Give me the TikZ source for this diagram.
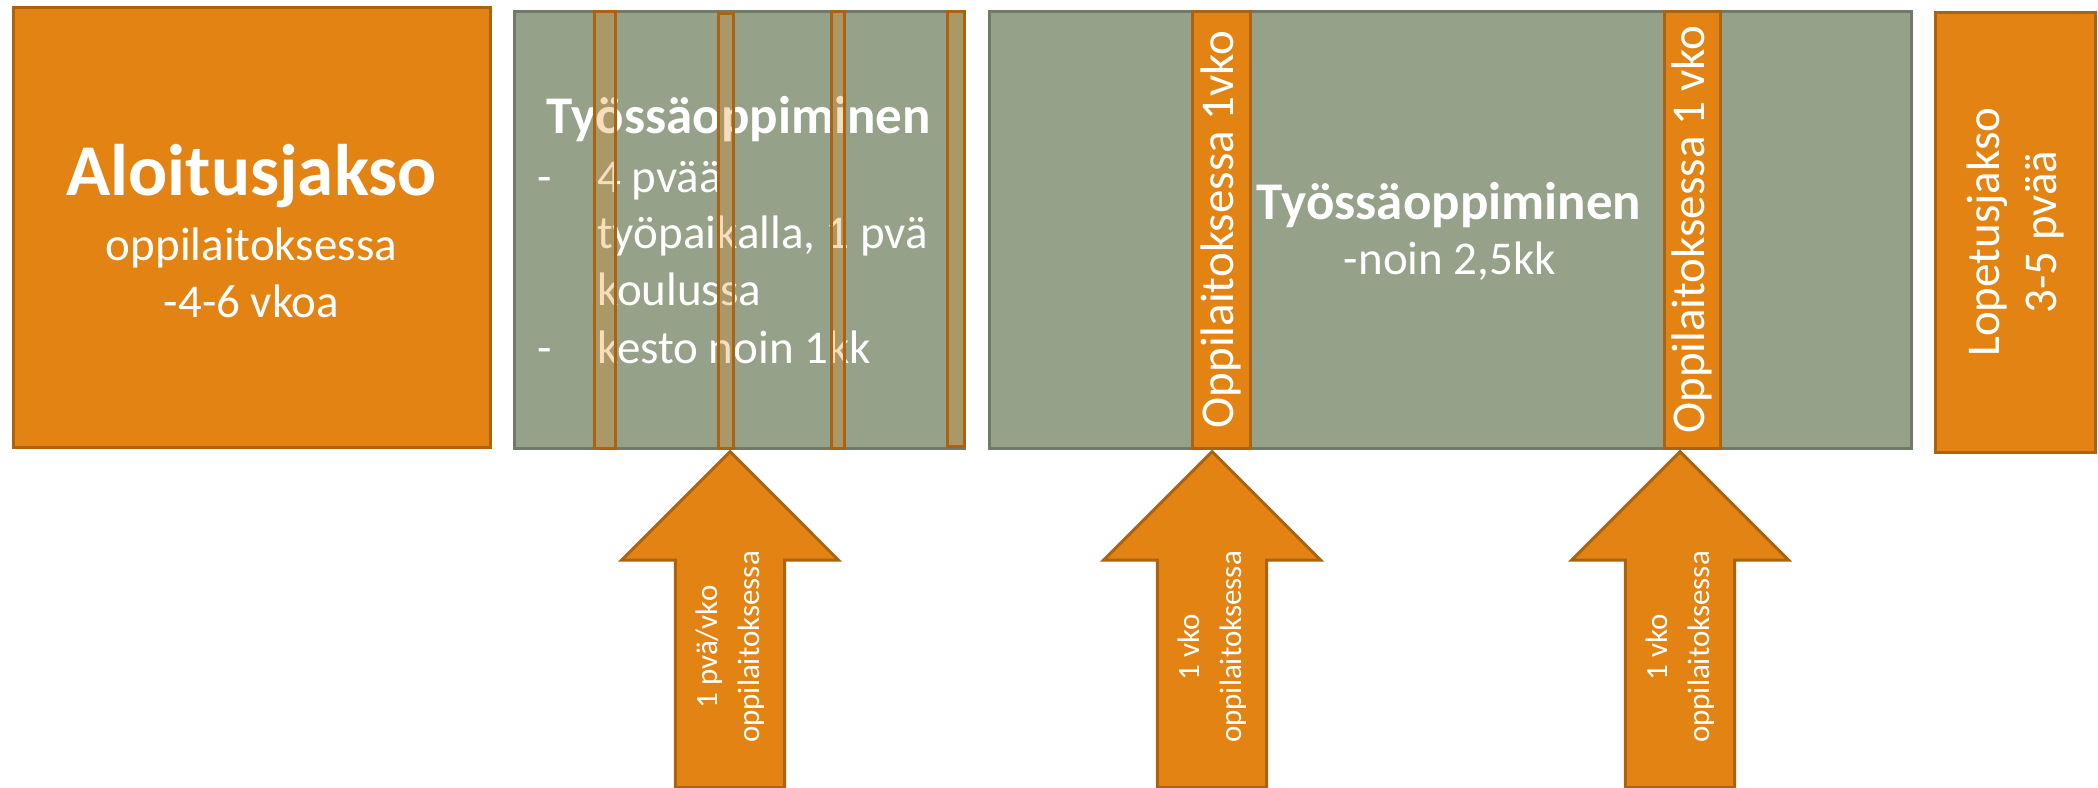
\documentclass[tikz,border=0pt]{standalone}
\usepackage{fontspec}
\setmainfont{Carlito}
\usetikzlibrary{shapes.arrows, calc}

\definecolor{jaksoOrange}{RGB}{227,131,19}
\definecolor{jaksoBorder}{RGB}{172,99,16}
\definecolor{tyoGreen}{RGB}{149,161,137}
\definecolor{tyoBorder}{RGB}{112,122,103}

\newcommand{\isoteksti}{\fontsize{73}{80}\selectfont\bfseries}
\newcommand{\otsikko}{\fontsize{53}{60}\selectfont\bfseries}
\newcommand{\perusteksti}{\fontsize{47}{57}\selectfont}
\newcommand{\pieniteksti}{\fontsize{31}{42}\selectfont}

\begin{document}
\begin{tikzpicture}[x=1pt, y=-1pt,
	jakso/.style={draw=jaksoBorder, fill=jaksoOrange, line width=3pt, inner sep=0pt, text=white},
	tyo/.style={draw=tyoBorder, fill=tyoGreen, line width=3pt, inner sep=0pt},
	raita/.style={draw=jaksoBorder, fill=jaksoOrange, fill opacity=0.28, line width=3pt, inner sep=0pt},
	teksti/.style={text=white, inner sep=0pt, anchor=base},
	nuoli/.style={single arrow, rotate=90, draw=jaksoBorder, fill=jaksoOrange, line width=3pt,
		text=white, minimum height=336, minimum width=217, single arrow head extend=50,
		single arrow tip angle=90, anchor=tip, align=center, font=\pieniteksti,
		inner xsep=0pt, inner ysep=15pt}]
	\useasboundingbox (0,0) rectangle (2098,787);
	
	\node[jakso, minimum width=477, minimum height=440] (aloitus) at (251.5,227) {};
	\node[tyo, minimum width=450, minimum height=437] (tyo1) at (739,229.5) {};
	\node[tyo, minimum width=922, minimum height=437] (tyo2) at (1450,229.5) {};
	\node[jakso, minimum width=160, minimum height=440] (lopetus) at (2015,232) {};
	
	\node[teksti, font=\isoteksti] (aloitusotsikko) at (251.5,195) {Aloitusjakso};
	\node[teksti, font=\perusteksti] (aloituspaikka) at (251.5,260) {oppilaitoksessa};
	\node[teksti, font=\perusteksti] (aloituskesto) at (251.5,317) {-4-6 vkoa};
	
	\node[teksti, font=\otsikko] (tyo1otsikko) at (738.5,133) {Työssäoppiminen};
	\node[teksti, anchor=base west, font=\perusteksti] (viiva1) at (537,192) {-};
	\node[teksti, anchor=base west, font=\perusteksti] (rivi1) at (597,192) {4 pvää};
	\node[teksti, anchor=base west, font=\perusteksti] (rivi2) at (597,248) {työpaikalla, 1 pvä};
	\node[teksti, anchor=base west, font=\perusteksti] (rivi3) at (597,305) {koulussa};
	\node[teksti, anchor=base west, font=\perusteksti] (viiva2) at (537,363) {-};
	\node[teksti, anchor=base west, font=\perusteksti] (rivi4) at (597,363) {kesto noin 1kk};
	
	\node[teksti, font=\otsikko] (tyo2otsikko) at (1449,219) {Työssäoppiminen};
	\node[teksti, font=\perusteksti] (tyo2kesto) at (1450,274) {-noin 2,5kk};
	
	\node[text=white, rotate=90, align=center, font=\perusteksti, inner sep=0pt] (lopetusteksti)
		at (lopetus.center) {Lopetusjakso\\3-5 pvää};
	
	\node[raita, minimum width=21, minimum height=437] (raita1) at (604.5,229.5) {};
	\node[raita, minimum width=15, minimum height=435] (raita2) at (725.5,230.5) {};
	\node[raita, minimum width=13, minimum height=437] (raita3) at (837.5,229.5) {};
	\node[raita, minimum width=17, minimum height=435] (raita4) at (955.5,228.5) {};
	
	\node[jakso, rotate=90, minimum width=437, minimum height=58, font=\perusteksti] (raitaA)
		at (1221,229.5) {Oppilaitoksessa 1vko};
	\node[jakso, rotate=90, minimum width=437, minimum height=56, font=\perusteksti] (raitaB)
		at (1692,229.5) {Oppilaitoksessa 1 vko};
	
	\node[nuoli] (nuoli1) at ($(raita2.south)+(4.5,0)$) {1 pvä/vko\\oppilaitoksessa};
	\node[nuoli] (nuoli2) at ($(raitaA.west)+(-9,0)$) {1 vko\\oppilaitoksessa};
	\node[nuoli] (nuoli3) at ($(raitaB.west)+(-12,0)$) {1 vko\\oppilaitoksessa};
	
\end{tikzpicture}
\end{document}
